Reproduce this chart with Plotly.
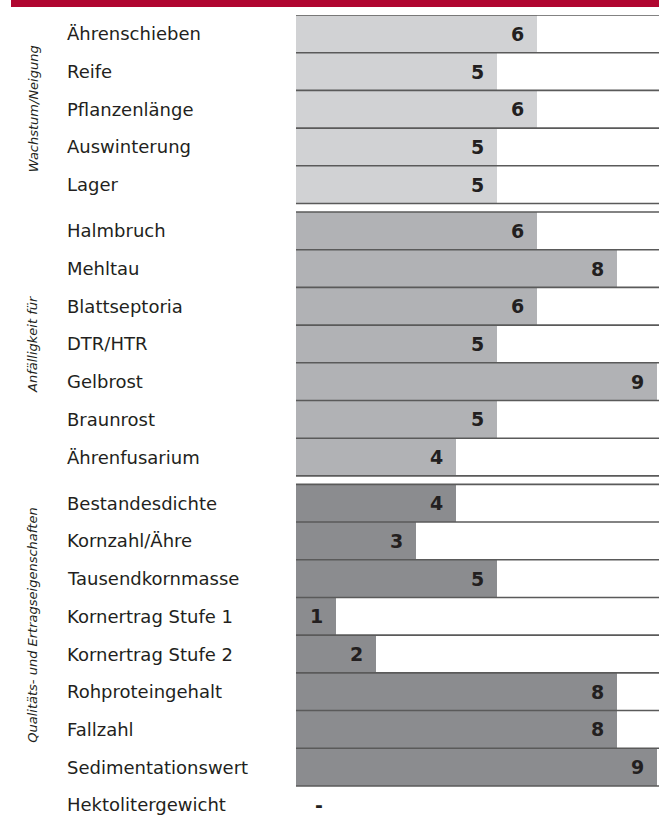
import plotly.graph_objects as go

# ---- data ----
group_titles = ["Wachstum/Neigung", "Anfälligkeit für", "Qualitäts- und Ertragseigenschaften"]

cats_wachstum = ["Ährenschieben", "Reife", "Pflanzenlänge", "Auswinterung", "Lager"]
vals_wachstum = [6, 5, 6, 5, 5]

cats_anfaellig = ["Halmbruch", "Mehltau", "Blattseptoria", "DTR/HTR", "Gelbrost", "Braunrost", "Ährenfusarium"]
vals_anfaellig = [6, 8, 6, 5, 9, 5, 4]

cats_qualitaet = ["Bestandesdichte", "Kornzahl/Ähre", "Tausendkornmasse", "Kornertrag Stufe 1",
                  "Kornertrag Stufe 2", "Rohproteingehalt", "Fallzahl", "Sedimentationswert",
                  "Hektolitergewicht"]
vals_qualitaet = [4, 3, 5, 1, 2, 8, 8, 9, None]

groups = [
    (cats_wachstum, vals_wachstum, "#d1d2d4"),
    (cats_anfaellig, vals_anfaellig, "#b1b2b5"),
    (cats_qualitaet, vals_qualitaet, "#8b8c8f"),
]

# ---- layout constants ----
W, H = 659, 816
PLOT_L, PLOT_T = 296, 15
PLOT_W = W - PLOT_L
PLOT_H = H - PLOT_T
ROW_PX = 37.7
GAP = 0.225          # gap between groups, in row units
X_MAX = 9.05
LABEL_PX = 65
GROUP_LABEL_PX = 33
LINE_COLOR = "#5a5a5a"
TEXT_COLOR = "#231f20"
FONT = "DejaVu Sans"

def px_to_paper_x(px):
    return (px - PLOT_L) / PLOT_W

fig = go.Figure()
annotations = []
shapes = []
group_centers = []

idx = 0
for g, (cats, vals, color) in enumerate(groups):
    top = idx + g * GAP
    ys = [idx + g * GAP + k + 0.5 for k in range(len(cats))]
    xs = [v if v is not None else 0 for v in vals]
    fig.add_trace(go.Bar(
        x=xs, y=ys, orientation="h", width=1.0,
        marker=dict(color=color, line=dict(width=0)),
        hoverinfo="skip", showlegend=False,
    ))
    # line on top of group
    shapes.append(dict(type="line", xref="paper", x0=0, x1=1, yref="y", y0=top, y1=top,
                       line=dict(color=LINE_COLOR, width=1.6)))
    for c, v, y in zip(cats, vals, ys):
        annotations.append(dict(text=c, xref="paper", x=px_to_paper_x(LABEL_PX), xanchor="left",
                                yref="y", y=y, yanchor="middle", showarrow=False,
                                font=dict(family=FONT, size=18, color=TEXT_COLOR)))
        if v is not None:
            shapes.append(dict(type="line", xref="paper", x0=0, x1=1, yref="y",
                               y0=y + 0.5, y1=y + 0.5,
                               line=dict(color=LINE_COLOR, width=1.6)))
        annotations.append(dict(text=str(v) if v is not None else "-", xref="x",
                                x=v if v is not None else 1, xanchor="right", xshift=-11,
                                yref="y", y=y, yanchor="middle", showarrow=False,
                                font=dict(family=FONT, size=19, color=TEXT_COLOR, weight=700)))
    group_centers.append(top + len([v for v in vals if v is not None]) / 2)
    idx += len(cats)

# third group label sits a bit higher than the bar block centre
group_centers[2] -= 0.25

for t, yc in zip(group_titles, group_centers):
    annotations.append(dict(text=t, xref="paper", x=px_to_paper_x(GROUP_LABEL_PX), xanchor="center",
                            yref="y", y=yc, yanchor="middle", textangle=-90, showarrow=False,
                            font=dict(family=FONT, size=13, color=TEXT_COLOR, style="italic")))

# red header strip
shapes.append(dict(type="rect", xref="paper", x0=px_to_paper_x(11), x1=1.01,
                   yref="paper", y0=1 + 8 / PLOT_H, y1=1 + PLOT_T / PLOT_H + 0.01,
                   fillcolor="#b00630", line=dict(width=0), layer="above"))

fig.update_layout(
    width=W, height=H,
    margin=dict(l=PLOT_L, r=0, t=PLOT_T, b=0, pad=0),
    paper_bgcolor="white", plot_bgcolor="white",
    barmode="overlay", bargap=0,
    xaxis=dict(range=[0, X_MAX], visible=False, fixedrange=True),
    yaxis=dict(range=[PLOT_H / ROW_PX, 0], visible=False, fixedrange=True),
    shapes=shapes, annotations=annotations,
)

fig.write_html("out.html",
               config={"displayModeBar": False},
               post_script="document.body.style.margin='0';document.body.style.overflow='hidden';")
